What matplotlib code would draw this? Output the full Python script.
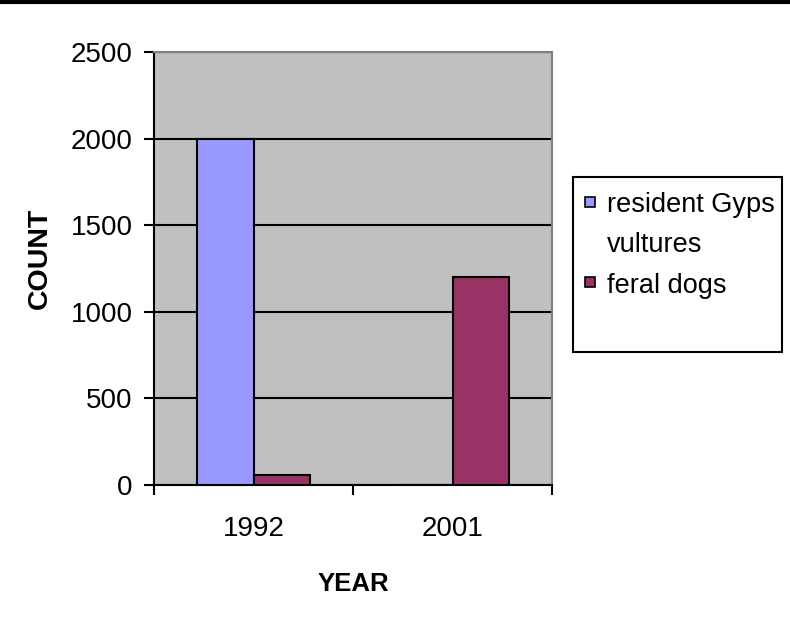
import matplotlib.pyplot as plt
import matplotlib.patches as mpatches
import numpy as np

plt.rcParams['font.family'] = ['Liberation Sans', 'DejaVu Sans']

##! Data
years = ['1992', '2001']
vultures = [2000, 0]
dogs = [55, 1200]
series_names = ['resident Gyps\nvultures', 'feral dogs']
colours = ['#9999FF', '#993366']

W, H = 790, 628
fig = plt.figure(figsize=(W / 100, H / 100), dpi=100)
ax = fig.add_axes([154 / W, 1 - 485 / H, (552 - 154) / W, (485 - 52) / H])
ax.set_facecolor('#C0C0C0')

x = np.arange(len(years))
bw = 0.285
ax.bar(x - bw / 2, vultures, bw, color=colours[0], edgecolor='black', lw=1.5, zorder=3)
ax.bar(x + bw / 2, dogs, bw, color=colours[1], edgecolor='black', lw=1.5, zorder=3)

#-- axes
ax.set_xlim(-0.5, 1.5)
ax.set_ylim(0, 2500)
ax.set_yticks(np.arange(0, 2501, 500))
ax.yaxis.grid(True, color='black', lw=1.5, zorder=1)
ax.set_axisbelow(True)
ax.set_xticks([-0.5, 0.5, 1.5])
ax.set_xticklabels([])
ax.set_xticks(x, minor=True)
ax.set_xticklabels(years, minor=True)
ax.tick_params(axis='x', which='minor', length=0, pad=22, labelsize=20)
ax.tick_params(axis='x', which='major', length=7, width=1.5, direction='out')
ax.tick_params(axis='y', length=7.5, width=1.5, direction='out', pad=8, labelsize=20)

for s in ['left', 'bottom']:
    ax.spines[s].set_color('black')
    ax.spines[s].set_linewidth(1.5)
for s in ['top', 'right']:
    ax.spines[s].set_color('#808080')
    ax.spines[s].set_linewidth(1.5)

fig.text(353 / W, 1 - 584 / H, 'YEAR', ha='center', va='center', fontsize=18.5, fontweight='bold')
fig.text(40 / W, 1 - 258 / H, 'COUNT', ha='center', va='center', rotation=90,
         fontsize=20.5, fontweight='bold')

#-- legend drawn by hand to match the frame and line spacing
frame = mpatches.Rectangle((573 / W, 1 - 352 / H), (782 - 573) / W, (352 - 177) / H,
                           transform=fig.transFigure, fill=False, edgecolor='black', lw=1.5)
fig.add_artist(frame)
key_tops = [197, 277]
text_base = [212, 293]
for c, name, kt, tb in zip(colours, series_names, key_tops, text_base):
    fig.add_artist(mpatches.Rectangle((585 / W, 1 - (kt + 10) / H), 10 / W, 10 / H,
                                      transform=fig.transFigure, facecolor=c,
                                      edgecolor='black', lw=1.2))
    fig.text(607 / W, 1 - tb / H, name.split('\n')[0], ha='left', va='baseline', fontsize=19.5)
    if '\n' in name:
        fig.text(607 / W, 1 - (tb + 40) / H, name.split('\n')[1], ha='left',
                 va='baseline', fontsize=19.5)

#-- black rule along the top edge
fig.add_artist(plt.Line2D([0, 1], [1 - 1.5 / H, 1 - 1.5 / H], transform=fig.transFigure,
                          color='black', lw=3))

fig.savefig('out.png', dpi=100)
